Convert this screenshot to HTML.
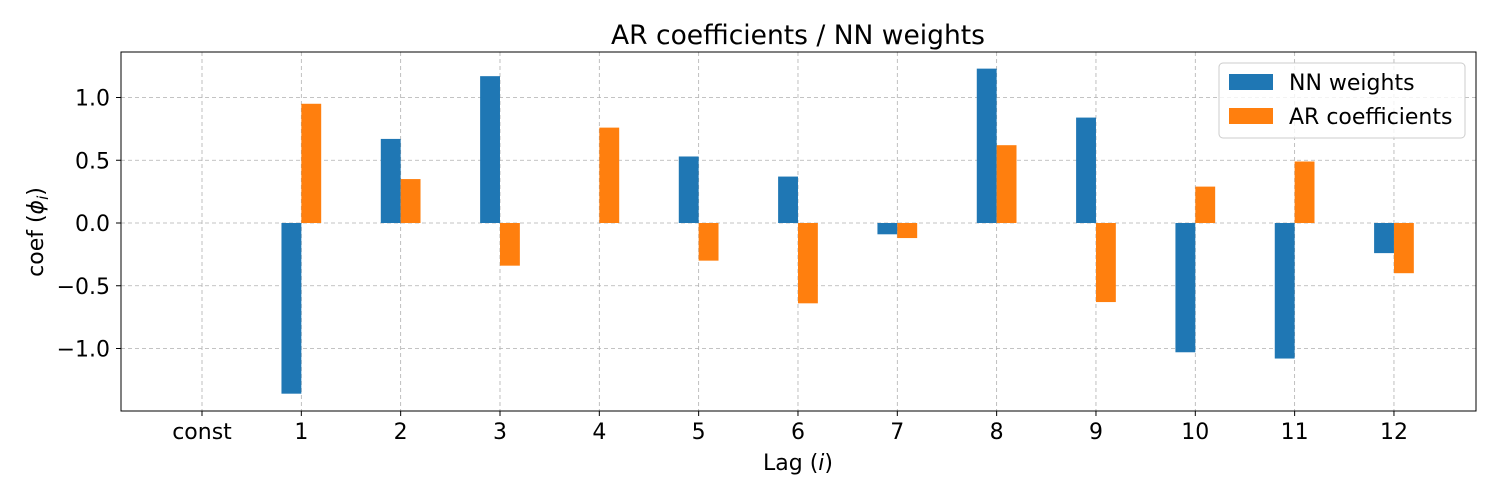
<!DOCTYPE html>
<html><head><meta charset="utf-8"><style>
body{margin:0;background:#fff;}
svg{display:block;font-family:"DejaVu Sans","Liberation Sans",sans-serif;}
</style></head><body>
<svg id="chart" width="1500" height="500">
<text x="798" y="44" font-size="26.5" text-anchor="middle">AR coefficients / NN weights</text>
<g id="grid"></g><g id="bars"></g>
<rect x="121" y="52" width="1355" height="359" fill="none" stroke="#000" stroke-width="1"/>
<g id="ticks"></g>
<text x="798" y="470" font-size="22" text-anchor="middle">Lag  (<tspan font-style="italic">i</tspan>)</text>
<text transform="translate(43,232) rotate(-90)" font-size="22" text-anchor="middle">coef  (<tspan font-style="italic">ϕ</tspan><tspan font-style="italic" font-size="15" dy="5">i</tspan><tspan dy="-5">)</tspan></text>
<g>
<rect x="1219" y="63" width="246" height="75" rx="4" fill="#fff" fill-opacity="0.8" stroke="#ccc"/>
<rect x="1229" y="74" width="44" height="16" fill="#1f77b4"/>
<text x="1289" y="90" font-size="22">NN weights</text>
<rect x="1229" y="108" width="44" height="16" fill="#ff7f0e"/>
<text x="1289" y="124" font-size="22">AR coefficients</text>
</g>
</svg>
<script>
const categories=["const","1","2","3","4","5","6","7","8","9","10","11","12"];
const nnWeights=[0,-1.36,0.67,1.17,0,0.53,0.37,-0.09,1.23,0.84,-1.03,-1.08,-0.24];
const arCoefficients=[0,0.95,0.35,-0.34,0.76,-0.30,-0.64,-0.12,0.62,-0.63,0.29,0.49,-0.40];
const yTicks=[-1.0,-0.5,0.0,0.5,1.0];
const yTickLabels=["−1.0","−0.5","0.0","0.5","1.0"];

const NS="http://www.w3.org/2000/svg";
function xs(i){return 202+i*99.33;}
function ys(v){return 223-v*125.5;}
function mk(tag,attrs,parent){const e=document.createElementNS(NS,tag);for(const k in attrs)e.setAttribute(k,attrs[k]);document.getElementById(parent).appendChild(e);return e;}
const bw=0.2*99.33;
categories.forEach((c,i)=>{
  const g=mk('line',{x1:xs(i),x2:xs(i),y1:52,y2:411,stroke:'#b0b0b0','stroke-dasharray':'4,3','stroke-width':0.8},'grid');
  
  
  const t=mk('text',{x:xs(i),y:439,'font-size':22,'text-anchor':'middle'},'ticks');t.textContent=c;
  
  
  mk('line',{x1:xs(i),x2:xs(i),y1:411,y2:416,stroke:'#000'},'ticks');
  const v1=nnWeights[i];
  const b1=mk('rect',{x:xs(i)-bw,y:Math.min(ys(v1),ys(0)),width:bw,height:Math.abs(ys(v1)-ys(0)),fill:'#1f77b4'},'bars');
  
  
  const v2=arCoefficients[i];
  const b2=mk('rect',{x:xs(i),y:Math.min(ys(v2),ys(0)),width:bw,height:Math.abs(ys(v2)-ys(0)),fill:'#ff7f0e'},'bars');
  
  
});
yTicks.forEach((v,i)=>{
  const g=mk('line',{x1:121,x2:1476,y1:ys(v),y2:ys(v),stroke:'#b0b0b0','stroke-dasharray':'4,3','stroke-width':0.8},'grid');
  
  
  mk('line',{x1:116,x2:121,y1:ys(v),y2:ys(v),stroke:'#000'},'ticks');
  const t=mk('text',{x:110,y:ys(v)+8,'font-size':22,'text-anchor':'end'},'ticks');t.textContent=yTickLabels[i];
  
  
});
</script>
</body></html>
